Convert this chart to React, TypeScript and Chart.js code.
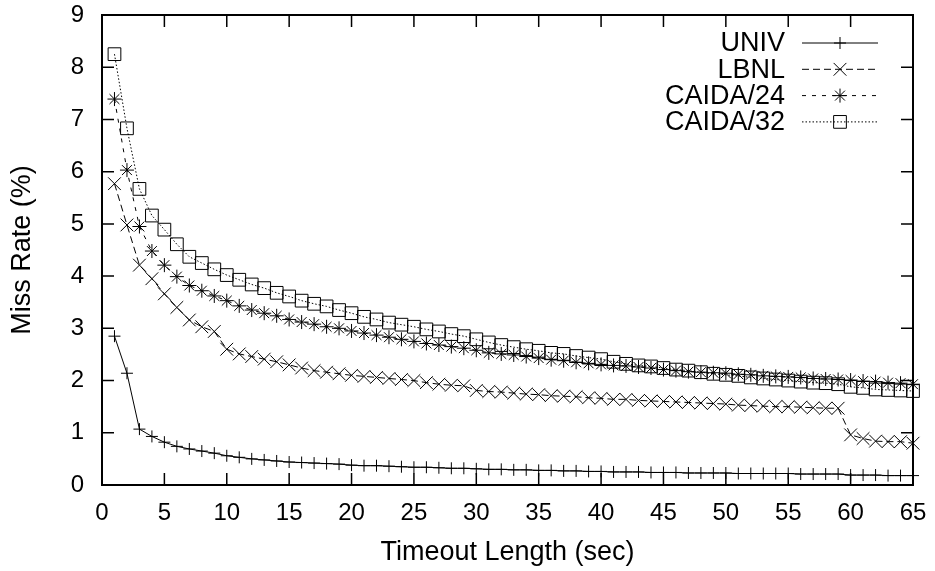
import React, { useEffect, useRef } from 'react';
import { Chart, registerables } from 'chart.js';

Chart.register(...registerables);

// ---- data ----
const timeouts = [
  1, 2, 3, 4, 5, 6, 7, 8, 9, 10, 11, 12, 13, 14, 15, 16, 17, 18, 19, 20,
  21, 22, 23, 24, 25, 26, 27, 28, 29, 30, 31, 32, 33, 34, 35, 36, 37, 38, 39, 40,
  41, 42, 43, 44, 45, 46, 47, 48, 49, 50, 51, 52, 53, 54, 55, 56, 57, 58, 59, 60,
  61, 62, 63, 64, 65,
];

const univ = [
  2.85, 2.14, 1.07, 0.93, 0.82, 0.74, 0.69, 0.65, 0.61, 0.56,
  0.53, 0.50, 0.48, 0.46, 0.44, 0.43, 0.42, 0.41, 0.40, 0.38,
  0.37, 0.37, 0.36, 0.35, 0.34, 0.34, 0.33, 0.32, 0.32, 0.31,
  0.30, 0.30, 0.29, 0.29, 0.28, 0.28, 0.27, 0.27, 0.26, 0.26,
  0.25, 0.25, 0.25, 0.24, 0.24, 0.24, 0.23, 0.23, 0.23, 0.23,
  0.22, 0.22, 0.22, 0.22, 0.22, 0.21, 0.21, 0.21, 0.21, 0.19,
  0.19, 0.19, 0.18, 0.18, 0.18,
];

const lbnl = [
  5.77, 4.98, 4.21, 3.95, 3.66, 3.40, 3.16, 3.03, 2.94, 2.60,
  2.51, 2.46, 2.41, 2.36, 2.30, 2.24, 2.19, 2.16, 2.13, 2.10,
  2.08, 2.06, 2.04, 2.02, 2.00, 1.96, 1.93, 1.91, 1.90, 1.81,
  1.79, 1.78, 1.76, 1.74, 1.73, 1.71, 1.70, 1.69, 1.67, 1.66,
  1.64, 1.64, 1.62, 1.61, 1.60, 1.59, 1.58, 1.57, 1.56, 1.55,
  1.53, 1.52, 1.51, 1.50, 1.50, 1.49, 1.48, 1.47, 1.47, 0.96,
  0.89, 0.84, 0.83, 0.83, 0.80,
];

const caida24 = [
  7.39, 6.03, 4.95, 4.48, 4.21, 3.99, 3.82, 3.72, 3.62, 3.53,
  3.43, 3.35, 3.29, 3.24, 3.17, 3.12, 3.08, 3.03, 3.00, 2.95,
  2.91, 2.87, 2.83, 2.79, 2.75, 2.71, 2.68, 2.65, 2.62, 2.58,
  2.53, 2.51, 2.49, 2.46, 2.43, 2.40, 2.38, 2.35, 2.33, 2.31,
  2.29, 2.28, 2.26, 2.24, 2.21, 2.19, 2.17, 2.16, 2.15, 2.14,
  2.12, 2.11, 2.09, 2.08, 2.07, 2.06, 2.04, 2.03, 2.02, 2.01,
  1.99, 1.98, 1.96, 1.95, 1.93,
];

const caida32 = [
  8.25, 6.83, 5.67, 5.16, 4.89, 4.61, 4.37, 4.25, 4.13, 4.02,
  3.93, 3.84, 3.77, 3.68, 3.61, 3.53, 3.47, 3.42, 3.35, 3.29,
  3.22, 3.17, 3.11, 3.07, 3.03, 2.98, 2.94, 2.89, 2.85, 2.79,
  2.73, 2.68, 2.64, 2.60, 2.57, 2.53, 2.51, 2.47, 2.44, 2.41,
  2.36, 2.32, 2.29, 2.27, 2.24, 2.21, 2.19, 2.16, 2.13, 2.11,
  2.09, 2.06, 2.04, 2.02, 2.00, 1.98, 1.96, 1.95, 1.93, 1.88,
  1.86, 1.83, 1.82, 1.81, 1.80,
];

const seriesLabels = ['UNIV', 'LBNL', 'CAIDA/24', 'CAIDA/32'];
const xTickValues = [0, 5, 10, 15, 20, 25, 30, 35, 40, 45, 50, 55, 60, 65];
const yTickValues = [0, 1, 2, 3, 4, 5, 6, 7, 8, 9];
const xTitle = 'Timeout Length (sec)';
const yTitle = 'Miss Rate (%)';

// ---- styling ----
const FONT = '"Liberation Sans", Arial, Helvetica, sans-serif';
const W = 935;
const H = 571;

type Marker = 'cross' | 'crossRot' | 'star' | 'rect';
const markers: Marker[] = ['cross', 'crossRot', 'star', 'rect'];
const radii = [6, 9, 7, 9];
const dashes: number[][] = [[], [7, 4], [4, 6], [1.5, 2]];

function drawMarker(ctx: CanvasRenderingContext2D, type: Marker, x: number, y: number, r: number) {
  ctx.beginPath();
  if (type === 'cross' || type === 'star') {
    ctx.moveTo(x - r, y);
    ctx.lineTo(x + r, y);
    ctx.moveTo(x, y - r);
    ctx.lineTo(x, y + r);
  }
  if (type === 'crossRot' || type === 'star') {
    const d = r * Math.SQRT1_2;
    ctx.moveTo(x - d, y - d);
    ctx.lineTo(x + d, y + d);
    ctx.moveTo(x - d, y + d);
    ctx.lineTo(x + d, y - d);
  }
  if (type === 'rect') {
    const s = r * Math.SQRT1_2;
    ctx.rect(x - s, y - s, 2 * s, 2 * s);
  }
  ctx.stroke();
}

const framePlugin = {
  id: 'gnuFrame',
  afterDatasetsDraw(chart: any) {
    const { ctx, chartArea } = chart;
    const { left, right, top, bottom } = chartArea;
    const xs = chart.scales.x;
    const ys = chart.scales.y;
    ctx.save();
    ctx.strokeStyle = '#000';
    ctx.setLineDash([]);
    ctx.lineWidth = 1.5;
    const tl = 12;
    ctx.beginPath();
    for (const v of xTickValues) {
      const px = xs.getPixelForValue(v);
      ctx.moveTo(px, bottom);
      ctx.lineTo(px, bottom - tl);
      ctx.moveTo(px, top);
      ctx.lineTo(px, top + tl);
    }
    for (const v of yTickValues) {
      const py = ys.getPixelForValue(v);
      ctx.moveTo(left, py);
      ctx.lineTo(left + tl, py);
      ctx.moveTo(right, py);
      ctx.lineTo(right - tl, py);
    }
    ctx.stroke();
    ctx.lineWidth = 2;
    ctx.strokeRect(left, top, right - left, bottom - top);
    ctx.restore();
  },
  afterDraw(chart: any) {
    const { ctx, chartArea } = chart;
    ctx.save();
    ctx.font = `27px ${FONT}`;
    ctx.fillStyle = '#000';
    ctx.strokeStyle = '#000';
    ctx.textAlign = 'right';
    ctx.textBaseline = 'middle';
    const textRight = chartArea.right - 128;
    const lineStart = chartArea.right - 111;
    const lineEnd = chartArea.right - 35;
    chart.data.datasets.forEach((ds: any, i: number) => {
      const y = chartArea.top + 28 + i * 26.3;
      ctx.fillText(ds.label, textRight, y + 1);
      ctx.lineWidth = 1;
      ctx.setLineDash(ds.borderDash || []);
      ctx.beginPath();
      ctx.moveTo(lineStart, y);
      ctx.lineTo(lineEnd, y);
      ctx.stroke();
      ctx.setLineDash([]);
      drawMarker(ctx, markers[i], (lineStart + lineEnd) / 2, y, radii[i]);
    });
    ctx.restore();
  },
};

export default function App() {
  const ref = useRef<HTMLCanvasElement | null>(null);

  useEffect(() => {
    if (!ref.current) return;
    const seriesValues = [univ, lbnl, caida24, caida32];
    const chart = new Chart(ref.current, {
      type: 'line',
      data: {
        datasets: seriesValues.map((vals, i) => ({
          label: seriesLabels[i],
          data: timeouts.map((t, j) => ({ x: t, y: vals[j] })),
          borderColor: '#000',
          borderWidth: 1,
          borderDash: dashes[i],
          pointStyle: markers[i],
          pointRadius: radii[i],
          pointHoverRadius: radii[i],
          pointBorderColor: '#000',
          pointBorderWidth: 1,
          pointBackgroundColor: 'rgba(0,0,0,0)',
          fill: false,
          tension: 0,
          clip: false as any,
        })),
      },
      options: {
        animation: false,
        responsive: false,
        devicePixelRatio: 1,
        events: [],
        layout: { padding: { top: 15, right: 22, left: 0, bottom: 0 } },
        plugins: {
          legend: { display: false },
          tooltip: { enabled: false },
        },
        scales: {
          x: {
            type: 'linear',
            min: 0,
            max: 65,
            grid: { display: false, drawTicks: false },
            border: { display: false },
            ticks: {
              stepSize: 5,
              color: '#000',
              padding: 14,
              font: { family: FONT, size: 24 },
              maxRotation: 0,
              autoSkip: false,
            },
            title: {
              display: true,
              text: xTitle,
              color: '#000',
              font: { family: FONT, size: 27 },
              padding: { top: 0, bottom: 2 },
            },
            afterFit(scale: any) {
              scale.height = 86;
              scale.paddingLeft = 0;
              scale.paddingRight = 0;
            },
          },
          y: {
            type: 'linear',
            min: 0,
            max: 9,
            grid: { display: false, drawTicks: false },
            border: { display: false },
            ticks: {
              stepSize: 1,
              color: '#000',
              padding: 18,
              font: { family: FONT, size: 24 },
            },
            title: {
              display: true,
              text: yTitle,
              color: '#000',
              font: { family: FONT, size: 27 },
              padding: { top: 6, bottom: 0 },
            },
            afterFit(scale: any) {
              scale.width = 102;
              scale.paddingTop = 0;
              scale.paddingBottom = 0;
            },
          },
        },
      },
      plugins: [framePlugin],
    });
    return () => chart.destroy();
  }, []);

  return (
    <div style={{ position: 'fixed', left: 0, top: 0, width: W, height: H, background: '#fff' }}>
      <canvas ref={ref} width={W} height={H} />
    </div>
  );
}
